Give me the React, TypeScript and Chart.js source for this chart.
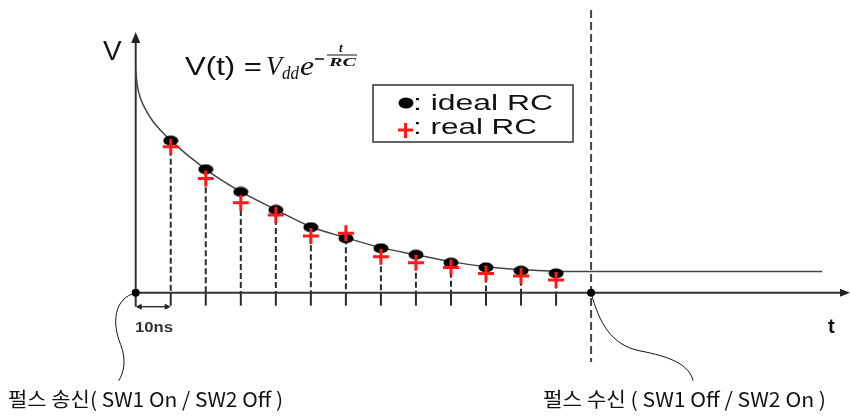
import { useEffect, useRef } from "react";
import { Chart, registerables } from "chart.js";

Chart.register(...registerables);

// sample instants (in units of 10 ns)
const steps = [1, 2, 3, 4, 5, 6, 7, 8, 9, 10, 11, 12];
// normalised voltage V/Vdd
const idealRC = [0.685, 0.556, 0.454, 0.373, 0.295, 0.245, 0.2, 0.171, 0.135, 0.114, 0.099, 0.087];
const realRC = [0.658, 0.515, 0.405, 0.35, 0.255, 0.268, 0.162, 0.135, 0.114, 0.087, 0.075, 0.057];
// continuous discharge curve
const curveT = [0, 0.05, 0.15, 0.3, 0.5, 0.75, 1, 2, 3, 4, 5, 6, 7, 8, 9, 10, 11, 12, 13, 19.6];
const curveV = [1.0, 0.93, 0.87, 0.82, 0.77, 0.725, 0.685, 0.556, 0.455, 0.374, 0.297, 0.248, 0.203, 0.171, 0.14, 0.117, 0.104, 0.097, 0.095, 0.095];
// switching events: pulse sent (t=0) and pulse received (t=13)
const eventT = [0, 13];
const xRange = [-3.874, 20.391];
const yRange = [-0.5644, 1.3185];

const SANS = "'Liberation Sans', Arial, sans-serif";
const SERIF = "'Liberation Serif', 'DejaVu Serif', serif";
const KR = "'Noto Sans CJK KR', 'Noto Sans', sans-serif";

function makeEllipse(w: number, h: number, color: string) {
  const c = document.createElement("canvas");
  c.width = w;
  c.height = h;
  const g = c.getContext("2d")!;
  g.fillStyle = color;
  g.beginPath();
  g.ellipse(w / 2, h / 2, w / 2 - 0.5, h / 2 - 0.5, 0, 0, Math.PI * 2);
  g.fill();
  return c;
}

function text(ctx: CanvasRenderingContext2D, s: string, x: number, y: number, font: string, width?: number, color = "#111") {
  ctx.save();
  ctx.font = font;
  ctx.fillStyle = color;
  ctx.textBaseline = "alphabetic";
  ctx.textAlign = "left";
  const w = ctx.measureText(s).width;
  const sx = width ? width / w : 1;
  ctx.translate(x, y);
  ctx.scale(sx, 1);
  ctx.fillText(s, 0, 0);
  ctx.restore();
}

function line(ctx: CanvasRenderingContext2D, x1: number, y1: number, x2: number, y2: number) {
  ctx.beginPath();
  ctx.moveTo(x1, y1);
  ctx.lineTo(x2, y2);
  ctx.stroke();
}

function tri(ctx: CanvasRenderingContext2D, pts: number[]) {
  ctx.beginPath();
  ctx.moveTo(pts[0], pts[1]);
  ctx.lineTo(pts[2], pts[3]);
  ctx.lineTo(pts[4], pts[5]);
  ctx.closePath();
  ctx.fill();
}

const diagramPlugin = {
  id: "diagram",
  beforeDatasetsDraw(chart: any) {
    const { ctx, scales } = chart;
    const x = scales.x;
    const y = scales.y;
    const x0 = x.getPixelForValue(0);
    const y0 = y.getPixelForValue(0);
    const x1 = x.getPixelForValue(1);
    const xe = x.getPixelForValue(eventT[1]);
    ctx.save();
    // sample drop lines
    ctx.strokeStyle = "#2a2a2a";
    ctx.lineWidth = 2;
    steps.forEach((t, i) => {
      const px = x.getPixelForValue(t);
      ctx.setLineDash([6, 3]);
      line(ctx, px, y.getPixelForValue(idealRC[i]), px, y0);
      ctx.setLineDash([]);
      line(ctx, px, y0, px, y0 + 13);
    });
    // pulse receive dashed marker
    ctx.strokeStyle = "#444";
    ctx.setLineDash([8, 4]);
    line(ctx, xe, 10, xe, 362);
    ctx.setLineDash([]);
    // axes
    ctx.strokeStyle = "#333";
    ctx.fillStyle = "#222";
    ctx.lineWidth = 2;
    line(ctx, x0, y0, x0, 40);
    tri(ctx, [x0, 32, x0 - 4.5, 43, x0 + 4.5, 43]);
    line(ctx, x0, y0, 842, y0);
    tri(ctx, [850, y0, 840, y0 - 4, 840, y0 + 4]);
    // 10ns dimension
    line(ctx, x0, y0, x0, y0 + 14);
    ctx.lineWidth = 1.5;
    line(ctx, x0 + 3, y0 + 14, x1 - 3, y0 + 14);
    tri(ctx, [x0, y0 + 14, x0 + 6, y0 + 11, x0 + 6, y0 + 17]);
    tri(ctx, [x1, y0 + 14, x1 - 6, y0 + 11, x1 - 6, y0 + 17]);
    // connector curves
    ctx.lineWidth = 1;
    ctx.strokeStyle = "#111";
    ctx.beginPath();
    ctx.moveTo(x0, y0);
    ctx.bezierCurveTo(x0 - 22, y0 + 6, x0 - 24, y0 + 30, x0 - 15, y0 + 52);
    ctx.bezierCurveTo(x0 - 9, y0 + 68, x0 - 12, y0 + 80, x0 - 17, y0 + 88);
    ctx.stroke();
    ctx.beginPath();
    ctx.moveTo(xe, y0);
    ctx.bezierCurveTo(xe + 8, y0 + 30, xe + 20, y0 + 52, xe + 48, y0 + 58);
    ctx.bezierCurveTo(xe + 80, y0 + 64, xe + 98, y0 + 72, xe + 102, y0 + 88);
    ctx.stroke();
    ctx.restore();
  },
  afterDatasetsDraw(chart: any) {
    const { ctx } = chart;
    ctx.save();
    // axis labels
    text(ctx, "V", 103, 60, `28px ${SANS}`);
    text(ctx, "t", 828, 333, `bold 20px ${SANS}`);
    text(ctx, "10ns", 135, 332, `bold 14px ${SANS}`, 38, "#333");
    // formula
    text(ctx, "V(t) =", 185, 75, `26px ${SANS}`, 77);
    text(ctx, "V", 266, 75, `italic 28px ${SERIF}`, 16);
    text(ctx, "dd", 282, 79, `italic 19px ${SERIF}`, 17);
    text(ctx, "e", 300, 75, `italic 28px ${SERIF}`, 14);
    ctx.strokeStyle = "#111";
    ctx.lineWidth = 1.5;
    line(ctx, 315, 59, 324, 59);
    ctx.lineWidth = 1;
    line(ctx, 327, 55, 357, 55);
    text(ctx, "t", 339, 52, `italic bold 13px ${SERIF}`);
    text(ctx, "RC", 329, 66, `italic bold 12px ${SERIF}`, 27);
    // legend
    ctx.strokeStyle = "#333";
    ctx.lineWidth = 1.5;
    ctx.strokeRect(373, 85, 200, 57);
    ctx.fillStyle = "#000";
    ctx.beginPath();
    ctx.ellipse(406, 103, 7.5, 5.5, 0, 0, Math.PI * 2);
    ctx.fill();
    text(ctx, ": ideal RC", 413, 110, `22px ${SANS}`, 140);
    ctx.strokeStyle = "#ff1a1a";
    ctx.lineWidth = 3;
    line(ctx, 398, 130, 413, 130);
    line(ctx, 405.5, 123, 405.5, 138);
    text(ctx, ": real RC", 413, 134, `22px ${SANS}`, 124);
    // bottom labels
    text(ctx, "펄스 송신( SW1 On / SW2 Off )", 8, 407, `20px ${KR}`, 275);
    text(ctx, "펄스 수신 ( SW1 Off / SW2 On )", 543, 407, `20px ${KR}`, 283);
    ctx.restore();
  },
};

export default function App() {
  const ref = useRef<HTMLCanvasElement | null>(null);
  useEffect(() => {
    if (!ref.current) return;
    const dot = makeEllipse(16, 11, "#000");
    const chart = new Chart(ref.current, {
      type: "scatter",
      data: {
        datasets: [
          {
            label: "events",
            data: eventT.map((t) => ({ x: t, y: 0 })),
            pointRadius: 4,
            pointBackgroundColor: "#000",
            pointBorderWidth: 0,
            order: 0,
          },
          {
            label: "real RC",
            data: steps.map((t, i) => ({ x: t, y: realRC[i] })),
            pointStyle: "cross",
            pointRadius: 8,
            pointBorderWidth: 3,
            pointBorderColor: "#ff1a1a",
            order: 1,
          },
          {
            label: "ideal RC",
            data: steps.map((t, i) => ({ x: t, y: idealRC[i] })),
            pointStyle: dot as any,
            order: 2,
          },
          {
            label: "V(t)",
            type: "line",
            data: curveT.map((t, i) => ({ x: t, y: curveV[i] })),
            borderColor: "#444",
            borderWidth: 1.5,
            pointRadius: 0,
            cubicInterpolationMode: "monotone",
            fill: false,
            order: 3,
          } as any,
        ],
      },
      options: {
        responsive: false,
        animation: false,
        devicePixelRatio: 1,
        layout: { padding: 0, autoPadding: false },
        plugins: { legend: { display: false }, tooltip: { enabled: false } },
        events: [],
        scales: {
          x: { type: "linear", min: xRange[0], max: xRange[1], display: false },
          y: { type: "linear", min: yRange[0], max: yRange[1], display: false },
        },
      },
      plugins: [diagramPlugin],
    });
    return () => chart.destroy();
  }, []);
  return (
    <div style={{ position: "absolute", left: 0, top: 0, width: 850, height: 418, background: "#fff" }}>
      <canvas ref={ref} width={850} height={418} style={{ display: "block" }} />
    </div>
  );
}
